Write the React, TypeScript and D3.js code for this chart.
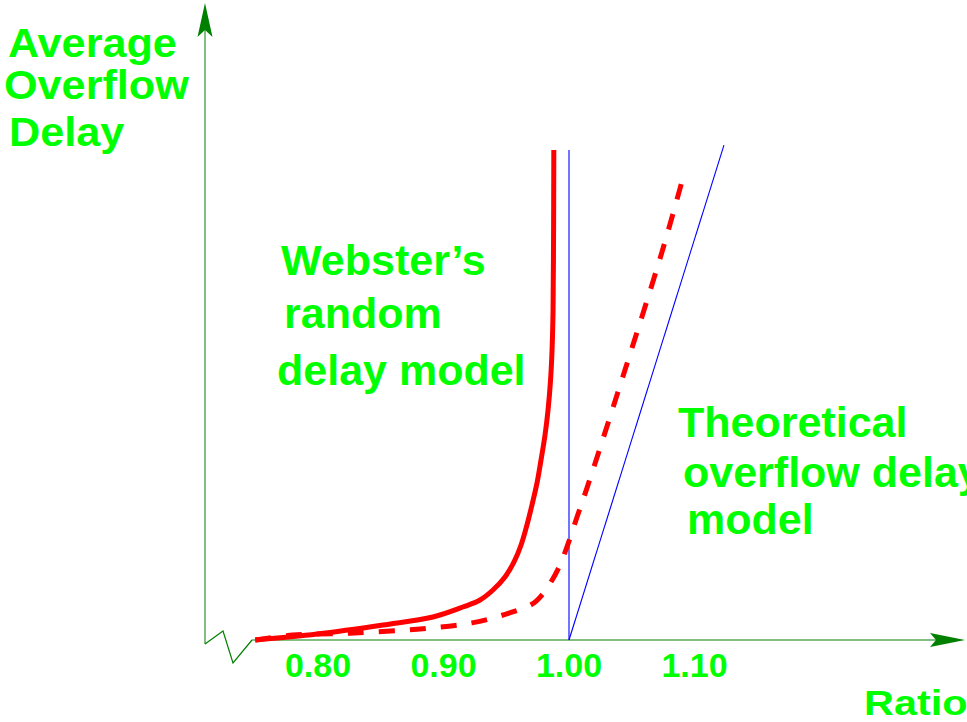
import React from "react";
import * as d3 from "d3";

const tickValues = [0.8, 0.9, 1.0, 1.1];
const tickLabels = ["0.80", "0.90", "1.00", "1.10"];

// Webster's random delay model (ratio, delay)
const websterRatio = [0.75, 0.7992, 0.8518, 0.8916, 0.9155, 0.9291, 0.9394, 0.949, 0.9562, 0.9618, 0.9665, 0.9705, 0.9745, 0.9777, 0.9809, 0.9833, 0.9853, 0.9865, 0.9873, 0.9876, 0.9878, 0.9879];
const websterDelay = [0, 1.22, 3.06, 4.69, 6.73, 8.16, 10.2, 12.86, 15.92, 19.39, 23.47, 27.55, 32.04, 36.73, 41.84, 46.94, 53.06, 59.18, 67.35, 77.55, 89.8, 100];

// Dashed curve
const dashedRatio = [0.75, 0.78, 0.8255, 0.879, 0.9227, 0.9474, 0.9705, 0.9785, 0.9865, 0.9928, 0.9984, 1.0064, 1.0143, 1.0446, 1.0741, 1.0908];
const dashedDelay = [0, 1.0, 1.4, 2.2, 3.5, 5.1, 7.3, 9.2, 12.2, 15.3, 19.0, 25.1, 31.0, 55.1, 79.2, 94.3];

// Theoretical overflow delay model (blue)
const verticalRatio = [1.0, 1.0];
const verticalDelay = [0, 100];
const slantRatio = [1.0, 1.1235];
const slantDelay = [0, 101];

const GREEN_TEXT = "#00ff00";
const AXIS = "#008000";
const FONT = "'Liberation Sans', Arial, Helvetica, sans-serif";

export default function App() {
  const W = 967, H = 722;
  const x = d3.scaleLinear().domain([0.8, 1.0]).range([318, 569]);
  const y = d3.scaleLinear().domain([0, 100]).range([640, 150]);

  const toPts = (xs: number[], ys: number[]) => xs.map((v, i) => [v, ys[i]] as [number, number]);
  const smooth = d3.line<[number, number]>().x(d => x(d[0])).y(d => y(d[1])).curve(d3.curveCatmullRom.alpha(0.5));
  const straight = d3.line<[number, number]>().x(d => x(d[0])).y(d => y(d[1]));

  const axisX = 205;
  const axisY = y(0);

  return (
    <svg width={W} height={H} style={{ position: "absolute", left: 0, top: 0, background: "#fff" }}>
      {/* y axis */}
      <line x1={axisX} y1={30} x2={axisX} y2={644} stroke={AXIS} strokeWidth={1} />
      <path d={`M${axisX},3 L${axisX + 7.5},37 L${axisX},30 L${axisX - 7.5},37 Z`} fill={AXIS} />
      {/* zigzag break */}
      <polyline points={`${axisX},644 223,631 233,663 252,${axisY}`} fill="none" stroke={AXIS} strokeWidth={1.2} />
      {/* x axis */}
      <line x1={252} y1={axisY} x2={936} y2={axisY} stroke={AXIS} strokeWidth={1} />
      <path d={`M965,${axisY} L930,${axisY - 7} L936,${axisY} L930,${axisY + 7} Z`} fill={AXIS} />

      {/* blue lines */}
      <path d={straight(toPts(verticalRatio, verticalDelay)) || ""} fill="none" stroke="#0000ff" strokeWidth={1.1} />
      <path d={straight(toPts(slantRatio, slantDelay)) || ""} fill="none" stroke="#0000ff" strokeWidth={1.1} />

      {/* red curves */}
      <path d={smooth(toPts(dashedRatio, dashedDelay)) || ""} fill="none" stroke="#ff0000" strokeWidth={5} strokeDasharray="16 15" />
      <path d={smooth(toPts(websterRatio, websterDelay)) || ""} fill="none" stroke="#ff0000" strokeWidth={5} />

      {/* tick labels */}
      {tickValues.map((v, i) => (
        <text key={i} x={x(v)} y={677} textAnchor="middle" fontFamily={FONT} fontWeight="bold" fontSize={34} fill={GREEN_TEXT}>
          {tickLabels[i]}
        </text>
      ))}

      {/* axis titles */}
      <g fontFamily={FONT} fontWeight="bold" fill={GREEN_TEXT}>
        <text transform="translate(8,57) scale(1.08,1)" fontSize={40}>Average</text>
        <text transform="translate(4,99) scale(1.08,1)" fontSize={40}>Overflow</text>
        <text transform="translate(9,146) scale(1.08,1)" fontSize={40}>Delay</text>
        <text transform="translate(864,715) scale(1.15,1)" fontSize={36}>Ratio</text>
      </g>

      {/* annotations */}
      <g fontFamily={FONT} fontWeight="bold" fill={GREEN_TEXT} fontSize={43}>
        <text x={281} y={275}>Webster’s</text>
        <text x={284} y={328}>random</text>
        <text x={277} y={385}>delay model</text>
        <text x={678} y={437}>Theoretical</text>
        <text x={683} y={487}>overflow delay</text>
        <text x={687} y={534}>model</text>
      </g>
    </svg>
  );
}
